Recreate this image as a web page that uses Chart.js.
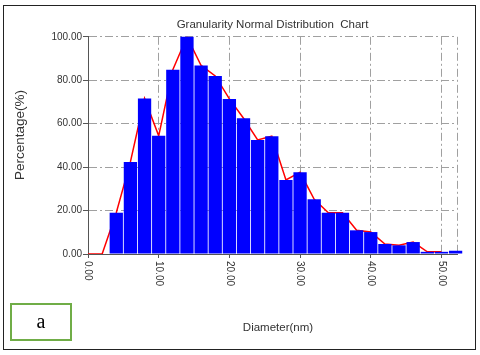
<!DOCTYPE html>
<html>
<head>
<meta charset="utf-8">
<script src="https://cdn.jsdelivr.net/npm/chart.js@4"></script>
<style>
    body { margin: 0; background: #fff; }
    #wrap { position: relative; width: 480px; height: 355px; }
    #frame { position: absolute; left: 3px; top: 5px; width: 471px; height: 343px; border: 1.5px solid #222; }
    #tag {
        position: absolute; left: 10px; top: 303px; width: 58px; height: 34px;
        border: 2px solid #70ad47; font: 20px "Liberation Serif", serif; color: #000;
        text-align: center; line-height: 32px;
    }
</style>
</head>
<body>
<div id="wrap">
    <canvas id="chart" width="480" height="355"></canvas>
    <div id="frame"></div>
    <div id="tag">a</div>
</div>
<script>
// Histogram bins (bin centre, nm) and their percentages
const binCentres = [4, 6, 8, 10, 12, 14, 16, 18, 20, 22, 24, 26, 28, 30, 32, 34, 36, 38, 40, 42, 44, 46, 48, 50, 52];
const binPercent = [19, 42.4, 71.6, 54.4, 84.8, 100, 86.8, 82, 71.4, 62.5, 52.5, 54.2, 34.1, 37.6, 25.2, 19, 19, 10.9, 10.1, 4.6, 4.0, 5.5, 1.0, 1.0, 1.5];

// Red distribution curve
const curveX = [0, 2, 4, 6, 8, 10, 12, 14, 16, 18, 20, 22, 24, 26, 28, 30, 32, 34, 36, 38, 40, 42, 44, 46, 48, 50];
const curveY = [0, 0, 19, 42.4, 71.6, 54.4, 84.8, 100, 86.8, 82, 71.4, 62.5, 52.5, 54.2, 34.1, 37.6, 25.2, 19, 19, 10.9, 10.1, 4.6, 4.0, 5.5, 1.0, 1.0];

// Axis ticks
const xTicks = [0, 10, 20, 30, 40, 50];
const xMax = 52.2;
const yTicks = [0, 20, 40, 60, 80, 100];

const FONT = '"Liberation Sans", Arial, sans-serif';
const TEXT = '#333';
const GRID = '#a0a0a0';
const DASH = [8, 3, 2, 3];

/**
 * Draws rotated x tick labels and the axis titles
 */
const axisText = {
    id: 'axisText',
    afterDraw(chart) {
        const { ctx, chartArea, scales } = chart;
        ctx.save();
        ctx.fillStyle = TEXT;

        // x tick labels, reading top to bottom
        ctx.font = '10px ' + FONT;
        ctx.textAlign = 'left';
        ctx.textBaseline = 'middle';
        xTicks.forEach(v => {
            const x = scales.x.getPixelForValue(v);
            ctx.save();
            ctx.translate(x, chartArea.bottom + 7);
            ctx.rotate(Math.PI / 2);
            ctx.fillText(v.toFixed(2), 0, 0);
            ctx.restore();
        });

        // x title
        ctx.font = '11.5px ' + FONT;
        ctx.textAlign = 'center';
        ctx.fillText('Diameter(nm)', 278, 328);

        // y title
        ctx.font = '13.5px ' + FONT;
        ctx.translate(20, 135);
        ctx.rotate(-Math.PI / 2);
        ctx.fillText('Percentage(%)', 0, 0);
        ctx.restore();
    }
};

new Chart(document.getElementById('chart'), {
    data: {
        datasets: [
            {
                type: 'bar',
                data: binCentres.map((x, i) => ({ x: x, y: binPercent[i] })),
                backgroundColor: '#0000ff',
                borderWidth: 0,
                barPercentage: 0.94,
                categoryPercentage: 1,
                clip: false,
                order: 1
            },
            {
                type: 'line',
                data: curveX.map((x, i) => ({ x: x, y: curveY[i] })),
                borderColor: '#ff0000',
                borderWidth: 1.5,
                pointRadius: 0,
                tension: 0,
                order: 2
            }
        ]
    },
    options: {
        responsive: false,
        animation: false,
        layout: { padding: { left: 0, right: 23, top: 0, bottom: 0 } },
        plugins: {
            legend: { display: false },
            tooltip: { enabled: false },
            title: {
                display: true,
                fullSize: false,
                text: 'Granularity Normal Distribution  Chart',
                color: TEXT,
                font: { family: FONT, size: 11.5, weight: 'normal' },
                padding: { top: 18, bottom: 5 }
            }
        },
        scales: {
            x: {
                type: 'linear',
                min: 0,
                max: xMax,
                offset: false,
                afterBuildTicks: s => {
                    s.ticks = xTicks.map(v => ({ value: v })).concat({ value: xMax });
                },
                afterFit: s => { s.height = 101; },
                ticks: { display: false },
                grid: {
                    offset: false,
                    color: GRID,
                    tickLength: 4,
                    tickColor: c => (c.tick && c.tick.value % 10 === 0 ? '#555' : 'rgba(0,0,0,0)')
                },
                border: { display: true, color: '#555', width: 1, dash: DASH }
            },
            y: {
                min: 0,
                max: 100,
                afterBuildTicks: s => { s.ticks = yTicks.map(v => ({ value: v })); },
                afterFit: s => { s.width = 88; },
                ticks: {
                    color: TEXT,
                    padding: 1,
                    font: { family: FONT, size: 10 },
                    callback: v => Number(v).toFixed(2)
                },
                grid: { color: GRID, tickLength: 5, tickColor: '#555' },
                border: { display: true, color: '#555', width: 1, dash: DASH }
            }
        }
    },
    plugins: [axisText]
});
</script>
</body>
</html>
